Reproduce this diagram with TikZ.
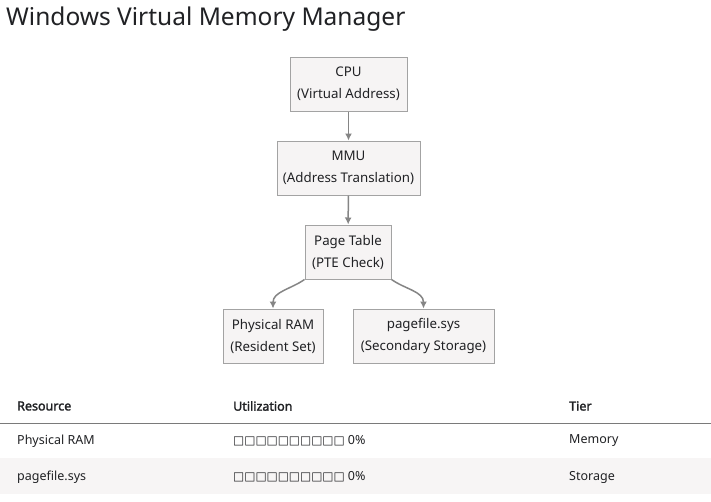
\documentclass[tikz,border=0pt]{standalone}
\usepackage{fontspec}
\setmainfont{Noto Sans}[AutoFakeBold=2]
\newfontfamily\boxglyphs{DejaVu Sans}
\usetikzlibrary{arrows.meta}
\definecolor{boxfill}{HTML}{F6F4F4}
\definecolor{boxline}{HTML}{A3A3A3}
\definecolor{arrowgray}{HTML}{858585}
\definecolor{inkdark}{HTML}{202124}
\definecolor{rowfill}{HTML}{F7F5F5}
\definecolor{ruleline}{HTML}{7A7A7A}
\begin{document}
\begin{tikzpicture}[x=1pt,y=-1pt,
    box/.style={draw=boxline, fill=boxfill, line width=1pt, align=center,
      text=inkdark, font=\fontsize{13.3}{22}\selectfont, inner sep=0pt, minimum height=54pt},
    arr/.style={-{Latex[length=7pt,width=7pt]}, draw=arrowgray, line width=1.5pt},
    cell/.style={anchor=west, text=inkdark, font=\fontsize{12.5}{15}\selectfont, inner sep=0pt},
    head/.style={cell, font=\fontsize{12.5}{15}\selectfont\bfseries}]
  \useasboundingbox[fill=white] (0,0) rectangle (711,501);

  % Title
  \node[anchor=west, text=inkdark, font=\fontsize{24.5}{28}\selectfont, inner sep=0pt] (title) at (6,19) {Windows Virtual Memory Manager};

  % Address path
  \node[box, minimum width=117pt] (cpu) at (348.5,84) {CPU\\(Virtual Address)};
  \node[box, minimum width=143pt] (mmu) at (348.5,168) {MMU\\(Address Translation)};
  \node[box, minimum width=86pt] (pte) at (348,252) {Page Table\\(PTE Check)};
  \node[box, minimum width=100pt] (ram) at (273,336) {Physical RAM\\(Resident Set)};
  \node[box, minimum width=141pt] (pagefile) at (423.5,336) {pagefile.sys\\(Secondary Storage)};

  \draw[arr] (cpu) -- (mmu);
  \draw[arr] (mmu) -- (pte);
  \draw[arr] (pte.south west) to[out=215, in=90] (ram.north);
  \draw[arr] (pte.south east) to[out=-35, in=90] (pagefile.north);

  % Table
  \fill[rowfill] (0,458) rectangle (711,494);
  \draw[ruleline, line width=1pt] (0,423) -- (711,423);

  \node[head] (hres) at (17,406) {Resource};
  \node[head] (hutil) at (233,406) {Utilization};
  \node[head] (htier) at (569,406) {Tier};

  \node[cell] (ramname) at (17,441) {Physical RAM};
  \node[cell] (ramutil) at (233,441) {{\boxglyphs\fontsize{11.8}{14}\selectfont □□□□□□□□□□} 0\%};
  \node[cell] (ramtier) at (569,441) {Memory};

  \node[cell] (pfname) at (17,477) {pagefile.sys};
  \node[cell] (pfutil) at (233,477) {{\boxglyphs\fontsize{11.8}{14}\selectfont □□□□□□□□□□} 0\%};
  \node[cell] (pftier) at (569,477) {Storage};
\end{tikzpicture}
\end{document}
